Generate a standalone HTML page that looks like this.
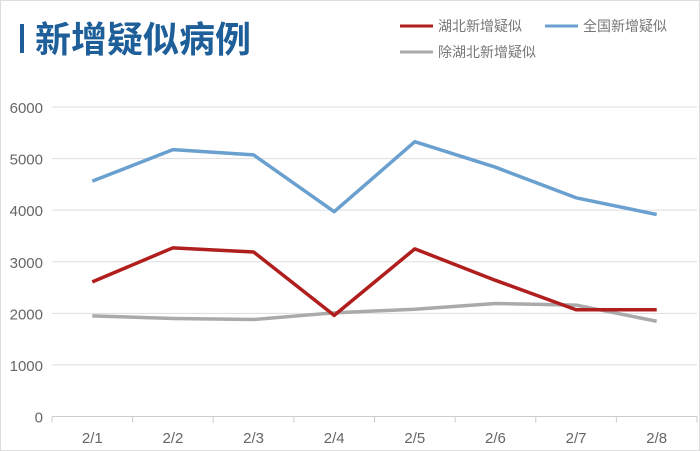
<!DOCTYPE html>
<html><head><meta charset="utf-8"><style>
body{margin:0;background:#fff;}
#wrap{position:relative;width:700px;height:451px;overflow:hidden;font-family:"Liberation Sans","Noto Sans CJK SC",sans-serif;}
</style></head><body>
<div id="wrap">
<svg id="svg" width="700" height="451">
<rect x="0.5" y="0.5" width="699" height="450" fill="#fff" stroke="#ddd"/>
<rect x="20" y="24" width="4" height="29" fill="#1f5f99"/>
<text x="35" y="52" font-size="36" font-weight="bold" fill="#1f5f99" font-family="'Liberation Sans','Noto Sans CJK SC',sans-serif">新增疑似病例</text>
<g>
<line x1="400" y1="26" x2="433" y2="26" stroke="#b01e1e" stroke-width="3"/>
<text x="438" y="31" font-size="14" fill="#777">湖北新增疑似</text>
<line x1="545" y1="26" x2="578" y2="26" stroke="#6aa0cf" stroke-width="3"/>
<text x="583" y="31" font-size="14" fill="#777">全国新增疑似</text>
<line x1="400" y1="52" x2="433" y2="52" stroke="#aaa" stroke-width="3"/>
<text x="438" y="57" font-size="14" fill="#777">除湖北新增疑似</text>
</g>
<g id="plot"></g>
</svg>
</div>
<script>
const categories=["2/1","2/2","2/3","2/4","2/5","2/6","2/7","2/8"];
const hubei=[2610,3270,3190,1960,3250,2640,2070,2070];
const national=[4562,5173,5072,3971,5328,4833,4240,3916];
const other=[1950,1900,1880,2010,2080,2190,2160,1846];
const yTicks=[0,1000,2000,3000,4000,5000,6000];
const L=52,R=697,Y0=416.5,Y6=107;
const band=(R-L)/categories.length;
const x=i=>L+band*(i+0.5);
const y=v=>Y0-(Y0-Y6)*v/6000;
const ns="http://www.w3.org/2000/svg";
const g=document.getElementById('plot');
function mk(t,a){const e=document.createElementNS(ns,t);for(const k in a)e.setAttribute(k,a[k]);g.appendChild(e);return e;}
yTicks.forEach(v=>{
 const l=mk('line',{x1:L,x2:R,y1:y(v),y2:y(v),stroke:v===0?'#ccc':'#ddd','stroke-width':1});
 
 
 const t=mk('text',{x:43,y:y(v)+6,'text-anchor':'end','font-size':15,fill:'#666'});
 t.textContent=v;
 
 
});
for(let i=0;i<=categories.length;i++){
 const l=mk('line',{x1:L+band*i,x2:L+band*i,y1:Y0,y2:Y0+6,stroke:'#ccc'});
 
 
}
categories.forEach((c,i)=>{
 const t=mk('text',{x:x(i),y:443,'text-anchor':'middle','font-size':15,fill:'#666'});
 t.textContent=c;
 
 
});
function series(d,col,name){
 const p=mk('polyline',{points:d.map((v,i)=>x(i)+','+y(v)).join(' '),fill:'none',stroke:col,'stroke-width':3.5,'stroke-linejoin':'round'});
 
 
}
series(other,'#aaa','line-other');
series(national,'#6aa0cf','line-national');
series(hubei,'#b01e1e','line-hubei');
</script>
</body></html>
